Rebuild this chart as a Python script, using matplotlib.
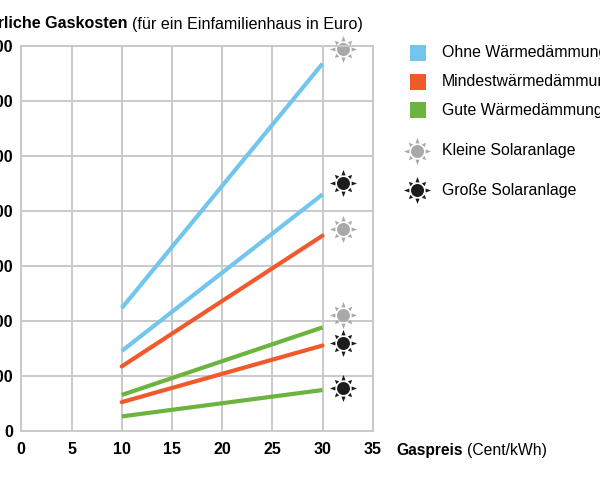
"""Jährliche Gaskosten je nach Gaspreis, Wärmedämmung und Solaranlage."""

import matplotlib

matplotlib.use("Agg")
import matplotlib.pyplot as plt
from matplotlib.lines import Line2D
from matplotlib.patches import Rectangle
from matplotlib.path import Path
import numpy as np

plt.rcParams["font.family"] = ["Liberation Sans", "DejaVu Sans"]

# --- data -------------------------------------------------------------
gaspreis = [10, 30]  # Cent/kWh

ohne_klein = [2230, 6680]
ohne_gross = [1450, 4300]
mindest_klein = [1170, 3550]
mindest_gross = [520, 1550]
gute_klein = [650, 1880]
gute_gross = [260, 740]

# sun icons placed at the end of each line
sun_x = 32
sun_y_klein = [6950, 3680, 2100]
sun_y_gross = [4500, 1590, 770]

x_ticks = [0, 5, 10, 15, 20, 25, 30, 35]
y_ticks = [0, 1000, 2000, 3000, 4000, 5000, 6000, 7000]

legend_labels = ["Ohne Wärmedämmung", "Mindestwärmedämmung", "Gute Wärmedämmung"]
sun_labels = ["Kleine Solaranlage", "Große Solaranlage"]

BLUE = "#72c5ec"
ORANGE = "#f05a2b"
GREEN = "#6cb33f"
GREY_SUN = "#a9a9a9"
BLACK_SUN = "#1c1c1c"
GRID = "#c9c9c9"


def sun_marker():
    """Disc with eight small triangular rays."""
    verts, codes = [], []
    circ = Path.circle((0, 0), 0.48)
    verts.extend(circ.vertices)
    codes.extend(circ.codes)
    for k in range(8):
        a = k * np.pi / 4
        outer = 1.0 if k % 2 == 0 else 0.9
        inner = 0.6
        half = 0.15
        c, s = np.cos(a), np.sin(a)
        tip = (outer * c, outer * s)
        b1 = (inner * c - half * s, inner * s + half * c)
        b2 = (inner * c + half * s, inner * s - half * c)
        verts.extend([b1, tip, b2, b1])
        codes.extend([Path.MOVETO, Path.LINETO, Path.LINETO, Path.CLOSEPOLY])
    return Path(verts, codes)


SUN = sun_marker()
SUN_SIZE = 19.5


def main():
    fig = plt.figure(figsize=(6, 4.8), dpi=100)
    ax = fig.add_axes([0.0355, 0.1027, 0.5857, 0.8013])

    lw = 3.0
    ax.plot(gaspreis, ohne_klein, color=BLUE, lw=lw, solid_capstyle="butt")
    ax.plot(gaspreis, ohne_gross, color=BLUE, lw=lw, solid_capstyle="butt")
    ax.plot(gaspreis, mindest_klein, color=ORANGE, lw=lw, solid_capstyle="round")
    ax.plot(gaspreis, mindest_gross, color=ORANGE, lw=lw, solid_capstyle="round")
    ax.plot(gaspreis, gute_klein, color=GREEN, lw=lw, solid_capstyle="butt")
    ax.plot(gaspreis, gute_gross, color=GREEN, lw=lw, solid_capstyle="butt")

    for y in sun_y_klein:
        ax.plot(sun_x, y, marker=SUN, ms=SUN_SIZE, mew=0, color=GREY_SUN,
                ls="none", clip_on=False)
    for y in sun_y_gross:
        ax.plot(sun_x, y, marker=SUN, ms=SUN_SIZE, mew=0, color=BLACK_SUN,
                ls="none", clip_on=False)

    ax.set_xlim(0, 35)
    ax.set_ylim(0, 7000)
    ax.set_xticks(x_ticks)
    ax.set_yticks(y_ticks)
    ax.set_xticklabels([str(v) for v in x_ticks], fontsize=11.5, fontweight="bold")
    ax.set_yticklabels([str(v) for v in y_ticks], fontsize=11.5, fontweight="bold")
    ax.tick_params(length=0)
    ax.tick_params(axis="y", pad=6)
    ax.tick_params(axis="x", pad=8)
    ax.grid(True, color=GRID, lw=1.4)
    ax.set_axisbelow(True)
    for sp in ax.spines.values():
        sp.set_color(GRID)
        sp.set_linewidth(1.4)

    # overlay in pixel coordinates for title, axis label and legend
    ov = fig.add_axes([0, 0, 1, 1], zorder=-1)
    ov.set_xlim(0, 600)
    ov.set_ylim(480, 0)
    ov.axis("off")

    ov.text(127, 24, "Jährliche Gaskosten", ha="right", va="center",
            fontsize=11.6, fontweight="bold")
    ov.text(132, 24, "(für ein Einfamilienhaus in Euro)", ha="left", va="center",
            fontsize=11.6)
    ov.text(396, 450, "Gaspreis", ha="left", va="center", fontsize=11.2, fontweight="bold")
    ov.text(467, 450, "(Cent/kWh)", ha="left", va="center", fontsize=11.3)

    for i, (lab, col) in enumerate(zip(legend_labels, [BLUE, ORANGE, GREEN])):
        yc = 53 + i * 28.5
        ov.add_patch(Rectangle((410, yc - 8), 16, 16, color=col, lw=0))
        ov.text(442, yc, lab, ha="left", va="center", fontsize=11.4)

    for i, (lab, col) in enumerate(zip(sun_labels, [GREY_SUN, BLACK_SUN])):
        yc = 151 + i * 39
        ov.add_line(Line2D([417], [yc], marker=SUN, ms=SUN_SIZE, mew=0,
                           color=col, ls="none"))
        ov.text(442, yc, lab, ha="left", va="center", fontsize=11.4)

    fig.savefig("out.png", dpi=100)
    plt.close(fig)


if __name__ == "__main__":
    main()
